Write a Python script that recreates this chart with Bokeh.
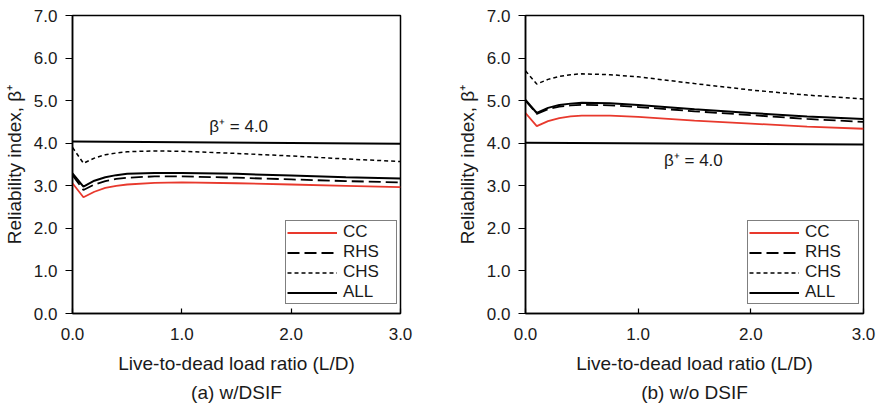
from bokeh.plotting import figure
from bokeh.layouts import row
from bokeh.models import Legend, LegendItem, Title, FixedTicker, Range1d, ColumnDataSource
from bokeh.embed import file_html
from bokeh.resources import INLINE
from bokeh.core.properties import value

ld = [0.0, 0.1, 0.2, 0.3, 0.4, 0.5, 0.75, 1.0, 1.5, 2.0, 2.5, 3.0]

a_cc  = [3.06, 2.73, 2.86, 2.95, 3.00, 3.03, 3.07, 3.08, 3.06, 3.03, 3.00, 2.97]
a_rhs = [3.25, 2.90, 3.03, 3.11, 3.16, 3.19, 3.22, 3.22, 3.19, 3.15, 3.11, 3.08]
a_chs = [3.90, 3.53, 3.65, 3.73, 3.77, 3.80, 3.82, 3.81, 3.76, 3.70, 3.63, 3.57]
a_all = [3.29, 2.98, 3.12, 3.20, 3.25, 3.28, 3.30, 3.30, 3.28, 3.24, 3.20, 3.17]

b_cc  = [4.71, 4.40, 4.52, 4.59, 4.63, 4.65, 4.65, 4.62, 4.53, 4.46, 4.39, 4.34]
b_rhs = [5.00, 4.69, 4.80, 4.86, 4.89, 4.90, 4.89, 4.85, 4.75, 4.66, 4.57, 4.50]
b_chs = [5.70, 5.39, 5.50, 5.57, 5.61, 5.63, 5.61, 5.56, 5.40, 5.25, 5.13, 5.04]
b_all = [5.02, 4.71, 4.83, 4.90, 4.93, 4.95, 4.94, 4.90, 4.80, 4.71, 4.63, 4.57]

target_x = [0.0, 3.0]
a_target = [4.04, 3.99]
b_target = [4.01, 3.97]

series_names = ["CC", "RHS", "CHS", "ALL"]
captions = ["(a) w/DSIF", "(b) w/o DSIF"]
x_label = "Live-to-dead load ratio (L/D)"
y_label = "Reliability index, \u03b2\u207a"
target_label = "\u03b2\u207a = 4.0"

FONT = "Liberation Sans"
RED = "#e8392d"
TXT = "#1a1a1a"


def make_panel(cc, rhs, chs, allv, target, caption, fw, bl, br, ann_xy, legend_loc):
    p = figure(frame_width=fw, frame_height=298, output_backend="svg", toolbar_location=None,
               x_range=Range1d(0, 3), y_range=Range1d(0, 7),
               min_border_left=bl, min_border_right=br, min_border_top=15, min_border_bottom=0)
    p.grid.visible = False
    p.outline_line_color = "black"
    p.outline_line_width = 1.5
    p.background_fill_color = "white"
    p.border_fill_color = "white"

    src = ColumnDataSource(dict(x=ld, cc=cc, rhs=rhs, chs=chs, all=allv))
    r_cc = p.line("x", "cc", source=src, line_color=RED, line_width=1.8)
    r_rhs = p.line("x", "rhs", source=src, line_color="black", line_width=1.8, line_dash="12 5")
    r_chs = p.line("x", "chs", source=src, line_color="black", line_width=1.5, line_dash="4 3")
    r_all = p.line("x", "all", source=src, line_color="black", line_width=2)
    p.line(target_x, target, line_color="black", line_width=2)
    p.text(x=[ann_xy[0]], y=[ann_xy[1]], text=[target_label], text_align="center",
           text_baseline="middle", text_font=value(FONT), text_font_size="17px", text_color=TXT)

    for ax in (p.xaxis[0], p.yaxis[0]):
        ax.axis_line_color = "black"
        ax.axis_line_width = 1.5
        ax.major_tick_line_color = "black"
        ax.major_tick_line_width = 1.2
        ax.minor_tick_line_color = None
        ax.major_label_text_font = FONT
        ax.major_label_text_font_size = "17px"
        ax.major_label_text_color = TXT
        ax.axis_label_text_font = FONT
        ax.axis_label_text_font_size = "19px"
        ax.axis_label_text_font_style = "normal"
        ax.axis_label_text_color = TXT

    p.xaxis.ticker = FixedTicker(ticks=[0, 1, 2, 3])
    p.xaxis.major_label_overrides = {0: "0.0", 1: "1.0", 2: "2.0", 3: "3.0"}
    p.xaxis.major_tick_in = 5
    p.xaxis.major_tick_out = 0
    p.xaxis.axis_label = x_label
    p.xaxis.major_label_standoff = 14
    p.xaxis.axis_label_standoff = 10

    p.yaxis.ticker = FixedTicker(ticks=list(range(8)))
    p.yaxis.major_label_overrides = {i: f"{i}.0" for i in range(8)}
    p.yaxis.major_tick_in = 0
    p.yaxis.major_tick_out = 7
    p.yaxis.axis_label = y_label
    p.yaxis.major_label_standoff = 8
    p.yaxis.axis_label_standoff = 6

    legend = Legend(items=[LegendItem(label=n, renderers=[r]) for n, r in
                           zip(series_names, [r_cc, r_rhs, r_chs, r_all])],
                    location=legend_loc, margin=0, padding=1, spacing=0,
                    glyph_width=50, glyph_height=19, label_height=19, label_width=52,
                    label_standoff=6,
                    label_text_font=FONT, label_text_font_size="17px", label_text_color=TXT,
                    border_line_color="black", border_line_width=1.5,
                    background_fill_alpha=1.0)
    p.add_layout(legend, "center")

    t = Title(text=caption, align="center", text_font=FONT, text_font_size="19px",
              text_font_style="normal", text_color=TXT, standoff=6)
    p.add_layout(t, "below")
    return p


p1 = make_panel(a_cc, a_rhs, a_chs, a_all, a_target, captions[0], 328, 71, 38,
                (1.52, 4.4), (213, 9))
p2 = make_panel(b_cc, b_rhs, b_chs, b_all, b_target, captions[1], 338, 87, 15,
                (1.49, 3.59), (222, 9))

layout = row(p1, p2, spacing=0)
open("out.html", "w").write(file_html(layout, INLINE))
